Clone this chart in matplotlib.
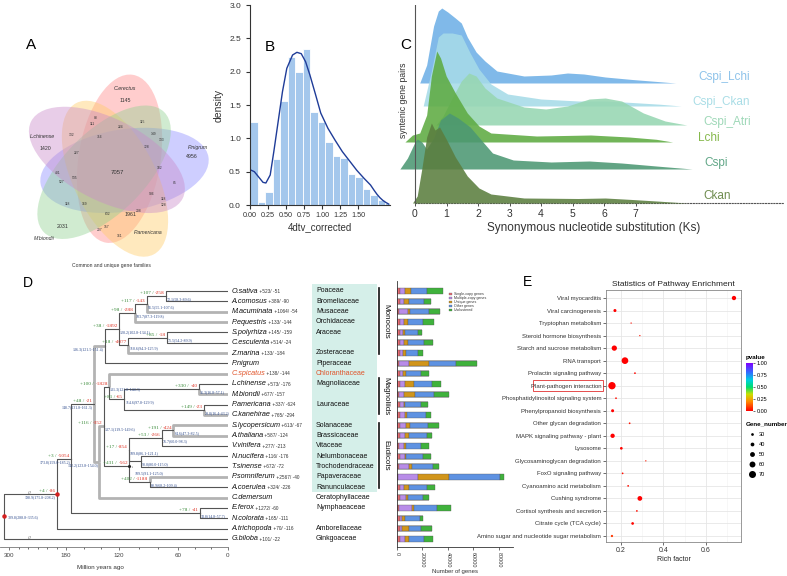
import numpy as np
import matplotlib
matplotlib.use('Agg')
import matplotlib.pyplot as plt
from matplotlib.patches import Ellipse, Rectangle
from matplotlib.colors import LinearSegmentedColormap, Normalize
from matplotlib.cm import ScalarMappable

plt.rcParams['font.family'] = ['Liberation Sans', 'DejaVu Sans']

# ======================= DATA =======================
# Panel A : Venn
venn_names = ['C.erectus', 'P.nigrum', 'P.americana', 'M.biondii', 'L.chinense']
venn_unique = [1145, 4956, 1961, 2031, 1420]
venn_core = 7057
venn_shared = [88, 111, 224, 115, 132, 716, 149, 133, 728, 227, 182, 401, 527,
               535, 85, 986, 118, 128, 118, 169, 208, 632, 157, 207, 161]

# Panel B : 4dtv histogram + kde
hist_bin_width = 0.104
hist_density = [1.245, 0.045, 0.19, 0.69, 1.56, 2.22, 2.00, 2.34, 1.39, 1.245,
                0.95, 0.74, 0.70, 0.47, 0.42, 0.24, 0.15, 0.08, 0.03]
kde_x = [0.00, 0.06, 0.12, 0.18, 0.22, 0.28, 0.33, 0.39, 0.45, 0.51, 0.59, 0.65,
         0.71, 0.77, 0.83, 0.91, 0.98, 1.08, 1.18, 1.28, 1.38, 1.48, 1.58, 1.67,
         1.72, 1.76, 1.80, 1.84, 1.88, 1.92]
kde_y = [0.53, 0.50, 0.42, 0.34, 0.33, 0.45, 0.80, 1.25, 1.70, 2.05, 2.25, 2.29,
         2.27, 2.15, 1.95, 1.65, 1.38, 1.15, 0.97, 0.80, 0.66, 0.52, 0.40, 0.30,
         0.22, 0.16, 0.11, 0.07, 0.04, 0.015]

# Panel C : Ks ridgelines (x = Ks, h = ridge height)
ridge_labels = ['Cspi_Lchi', 'Cspi_Ckan', 'Cspi_Atri', 'Lchi', 'Cspi', 'Ckan']
ks_cspi_lchi = [0.15, 0.37, 0.59, 0.74, 0.85, 1.04, 1.28, 1.47, 1.66, 1.94, 2.22, 2.6, 3.46, 4.32, 4.84, 5.36, 6.04, 6.9, 7.77, 8.28]
h_cspi_lchi = [0, 18, 57, 72, 75, 71, 65, 60, 46, 31, 22, 12, 7, 8, 10, 9, 6, 3.5, 1.3, 0]
ks_cspi_ckan = [0.26, 0.52, 0.74, 0.89, 1.18, 1.47, 1.75, 2.03, 2.41, 2.94, 4.0, 5.2, 6.04, 6.9, 7.77, 8.45]
h_cspi_ckan = [0, 35, 69, 73, 73, 71, 53, 37, 22, 12, 7, 5, 5, 3.5, 1.8, 0]
ks_cspi_atri = [0.67, 0.89, 1.18, 1.47, 1.71, 1.94, 2.22, 2.6, 3.46, 4.15, 4.84, 5.53, 6.04, 6.56, 7.25, 7.94, 8.63]
h_cspi_atri = [0, 9, 27, 44, 52, 49, 37, 27, 18, 16, 19, 26, 27, 24, 12, 4, 0]
ks_lchi = [-0.32, -0.08, 0.15, 0.37, 0.52, 0.69, 0.81, 0.99, 1.28, 1.66, 2.03, 2.41, 3.86, 5.58, 6.8, 7.66, 8.18]
h_lchi = [0, 7, 9, 27, 66, 91, 84, 66, 49, 29, 16, 9, 6, 7, 5, 2.7, 0]
ks_cspi = [-0.48, -0.24, 0.0, 0.07, 0.22, 0.37, 0.59, 0.81, 1.09, 1.37, 1.75, 2.13, 2.46, 3.12, 4.32, 5.53, 6.56, 7.77, 8.8]
h_cspi = [0, 11, 27, 30, 27, 20, 31, 49, 56, 51, 42, 28, 16, 9, 7, 8, 6, 2.7, 0]
ks_ckan = [-0.08, 0.07, 0.22, 0.37, 0.52, 0.63, 0.78, 0.99, 1.28, 1.66, 2.03, 2.41, 3.46, 5.18, 6.04, 6.9, 7.77, 8.63]
h_ckan = [0, 7, 35, 66, 80, 73, 76, 64, 46, 27, 15, 9, 5, 4.5, 5, 3.5, 1.8, 0]
ks_ticks = [0, 1, 2, 3, 4, 5, 6, 7]

# Panel D : species tree
species = ['O.sativa', 'A.comosus', 'M.acuminata', 'P.equestris', 'S.polyrhiza',
           'C.esculenta', 'Z.marina', 'P.nigrum', 'C.spicatus', 'L.chinense',
           'M.biondii', 'P.americana', 'C.kanehirae', 'S.lycopersicum', 'A.thaliana',
           'V.vinifera', 'N.nucifera', 'T.sinense', 'P.somniferum', 'A.coerulea',
           'C.demersum', 'E.ferox', 'N.colorata', 'A.trichopoda', 'G.biloba']
sp_gain = ['+523', '+389', '+1064', '+133', '+145', '+514', '+133', '', '+138', '+573',
           '+677', '+337', '+765', '+613', '+587', '+277', '+116', '+672', '+2567', '+324',
           '', '+1272', '+165', '+70', '+101']
sp_loss = ['-51', '-90', '-54', '-144', '-159', '-24', '-184', '', '-144', '-176',
           '-157', '-624', '-294', '-67', '-124', '-213', '-176', '-72', '-40', '-226',
           '', '-60', '-111', '-116', '-22']
families = ['Poaceae', 'Bromeliaceae', 'Musaceae', 'Orchidaceae', 'Araceae', '',
            'Zosteraceae', 'Piperaceae', 'Chloranthaceae', 'Magnoliaceae', '',
            'Lauraceae', '', 'Solanaceae', 'Brassicaceae', 'Vitaceae', 'Nelumbonaceae',
            'Trochodendraceae', 'Papaveraceae', 'Ranunculaceae', 'Ceratophyllaceae',
            'Nymphaeaceae', '', 'Amborellaceae', 'Ginkgoaceae']
clades = ['Monocots', 'Magnoliids', 'Eudicots']
node_ids = ['n72', 'n91', 'n103', 'n71', 'n110', 'n120', 'n136', 'n35', 'n29', 'n114',
            'n131', 'n64', 'n76', 'n98', 'n109a', 'n88', 'n109b', 'n137', 'n142',
            'n148', 'n33', 'n173', 'n198', 'root']
node_age = [72.1, 91.5, 103.7, 71.5, 110.6, 120.2, 136.3, 35.3, 29.0, 114.6, 131.3,
            64.6, 76.7, 98.0, 109.8, 88.9, 109.5, 137.1, 142.2, 148.7, 33.8, 173.8,
            198.9, 309.8]
node_children = [[0, 1], ['n72', 2], ['n91', 3], [4, 5], ['n71', 6], ['n103', 'n110'],
                 ['n120', 7], [9, 10], [11, 12], ['n35', 'n29'], [8, 'n114'], [13, 14],
                 ['n64', 15], [16, 17], ['n76', 'n98'], [18, 19], ['n109a', 'n88'],
                 ['n131', 'n109b'], ['n137', 20], ['n136', 'n142'], [21, 22],
                 ['n148', 'n33'], ['n173', 23], ['n198', 24]]
node_gain = ['+107', '+117', '+98', '+85', '+18', '+38', '', '+330', '+149', '+81',
             '+100', '+191', '+53', '', '+17', '+402', '+431', '+116', '', '+48', '+78',
             '+3', '+4', '']
node_loss = ['-258', '-143', '-288', '-18', '-4077', '-1892', '', '-40', '-23', '-65',
             '-1828', '-424', '-266', '', '-854', '-1188', '-562', '-352', '', '-21', '-41',
             '-5054', '-86', '']
node_ci = ['72.1(58.3-89.6)', '91.5(55.1-107.6)', '103.7(87.3-119.8)', '71.5(54.2-89.9)',
           '110.6(94.3-125.9)', '120.2(102.8-134.1)', '136.3(121.5-151.4)',
           '35.3(16.8-57.1)', '29.0(16.4-43.2)', '114.6(97.8-129.9)', '131.3(121.8-144.3)',
           '64.6(47.3-82.5)', '76.7(60.0-98.3)', '98.0(80.0-115.0)', '109.8(86.1-121.1)',
           '88.9(68.2-109.4)', '109.5(91.1-125.0)', '137.1(119.5-149.6)',
           '142.2(123.8-154.0)', '148.7(131.8-161.3)', '33.8(14.8-57.7)',
           '173.8(159.0-185.2)', '198.9(175.8-208.2)', '309.8(288.8-335.6)']
tree_ticks = [300, 180, 120, 60, 0]

# gene counts per species
gene_cats = ['Single-copy genes', 'Multiple-copy genes', 'Unique genes', 'Other genes', 'Unclustered']
bar_single = [2000, 2000, 1500, 2000, 2000, 2000, 2000, 1500, 2000, 2000, 1500, 2000, 2000,
              2000, 2000, 1500, 2000, 1500, 500, 2000, 2000, 1500, 2000, 2000, 2000]
bar_multi = [4200, 3100, 6800, 3100, 2600, 3600, 2600, 7800, 2600, 3900, 4200, 3600, 4200,
             4700, 4200, 3600, 4200, 8300, 15600, 3600, 4700, 9900, 2100, 1600, 4200]
bar_unique = [4700, 4200, 2000, 3600, 1600, 3100, 2100, 16100, 2600, 7500, 8300, 1000, 1600,
              3600, 3600, 2100, 1000, 1600, 24900, 3600, 1600, 1600, 2100, 5700, 3600]
bar_other = [13000, 12200, 15000, 11400, 9900, 12500, 9900, 20800, 11400, 14000, 15300, 12500,
             15100, 14300, 14000, 11900, 13500, 16700, 40000, 14300, 11900, 18700, 12100, 9900, 11400]
bar_uncl = [12000, 4900, 8800, 9100, 3400, 7300, 3600, 16600, 6200, 7300, 11700, 4900, 3600,
            8600, 3600, 6200, 6000, 4900, 2900, 6200, 5200, 10400, 2100, 8000, 6800]
bar_ticks = [0, 20000, 40000, 60000, 80000]

# Panel E : KEGG enrichment
pathways = ['Viral myocarditis', 'Viral carcinogenesis', 'Tryptophan metabolism',
            'Steroid hormone biosynthesis', 'Starch and sucrose metabolism', 'RNA transport',
            'Prolactin signaling pathway', 'Plant-pathogen interaction',
            'Phosphatidylinositol signaling system', 'Phenylpropanoid biosynthesis',
            'Other glycan degradation', 'MAPK signaling pathway - plant', 'Lysosome',
            'Glycosaminoglycan degradation', 'FoxO signaling pathway',
            'Cyanoamino acid metabolism', 'Cushing syndrome',
            'Cortisol synthesis and secretion', 'Citrate cycle (TCA cycle)',
            'Amino sugar and nucleotide sugar metabolism']
rich_factor = [0.731, 0.172, 0.248, 0.289, 0.169, 0.219, 0.266, 0.158, 0.177, 0.161,
               0.241, 0.161, 0.202, 0.317, 0.208, 0.234, 0.289, 0.275, 0.255, 0.158]
gene_number = [45, 33, 17, 17, 54, 67, 21, 73, 21, 33, 21, 45, 30, 17, 21, 21, 49, 21, 30, 26]
pvalue = [0.0, 0.0, 0.02, 0.03, 0.0, 0.0, 0.01, 0.0, 0.02, 0.0, 0.03, 0.0, 0.01, 0.04,
          0.02, 0.02, 0.0, 0.02, 0.01, 0.08]
size_legend = [30, 40, 50, 60, 70]
pv_ticks = [0.0, 0.25, 0.5, 0.75, 1.0]

# ======================= LAYOUT =======================
W, H = 787, 576
fig = plt.figure(figsize=(W / 100, H / 100), dpi=100)


def pax(x0, y0, x1, y1):
    return fig.add_axes([x0 / W, 1 - y1 / H, (x1 - x0) / W, (y1 - y0) / H])


# ---------- Panel A ----------
axA = pax(0, 0, 230, 280)
axA.set_xlim(0, 230)
axA.set_ylim(280, 0)
axA.axis('off')
venn_cols = ['#ff8a8a', '#8c8cff', '#ffcc66', '#8fd18f', '#c98ac9']
G = (114, 168)
for k, col in enumerate(venn_cols):
    al = np.deg2rad(81 - 72 * k)
    cx = G[0] + 10 * np.cos(al) + 4 * np.cos(al - np.pi / 2)
    cy = G[1] - 10 * np.sin(al) - 4 * np.sin(al - np.pi / 2)
    axA.add_patch(Ellipse((cx, cy), 170, 82, angle=-(81 - 72 * k), facecolor=col,
                          alpha=0.42, edgecolor='none'))
uniq_name_pos = [(125, 88), (198, 147), (148, 232), (44, 239), (42, 137)]
uniq_num_pos = [(125, 100), (192, 157), (130, 214), (63, 227), (45, 148)]
for nm, v, p1, p2 in zip(venn_names, venn_unique, uniq_name_pos, uniq_num_pos):
    axA.text(p1[0], p1[1], nm, fontsize=3.8, style='italic', ha='center', va='center', color='#333333')
    axA.text(p2[0], p2[1], str(v), fontsize=3.8, ha='center', va='center', color='#333333')
axA.text(117, 172, str(venn_core), fontsize=4.3, ha='center', va='center', color='#333333')
shared_pos = [(96, 118), (92, 124), (121, 127), (142, 122), (72, 135), (100, 137), (154, 134),
              (162, 140), (147, 147), (77, 153), (160, 168), (58, 173), (62, 182), (75, 178),
              (175, 183), (152, 194), (163, 199), (164, 205), (67, 204), (85, 204), (139, 211),
              (108, 214), (107, 227), (100, 230), (120, 236)]
for v, p in zip(venn_shared, shared_pos):
    axA.text(p[0], p[1], str(v), fontsize=2.4, ha='center', va='center', color='#333333')

# ---------- Panel B ----------
axB = pax(250, 5, 390, 205)
edges = np.arange(len(hist_density)) * hist_bin_width
axB.bar(edges, hist_density, width=hist_bin_width, align='edge', color='#a4c7ec',
        edgecolor='white', linewidth=0.6)
axB.plot(kde_x, kde_y, color='#1f3c98', lw=1.0)
axB.set_xlim(0, 1.94)
axB.set_ylim(0, 3.0)
for s in ['top', 'right']:
    axB.spines[s].set_visible(False)
for s in ['left', 'bottom']:
    axB.spines[s].set_color('#333333')
    axB.spines[s].set_linewidth(0.8)
axB.set_xticks([0, 0.25, 0.5, 0.75, 1.0, 1.25, 1.5])
axB.set_xticklabels(['0.00', '0.25', '0.50', '0.75', '1.00', '1.25', '1.50'])
axB.set_yticks([0, 0.5, 1.0, 1.5, 2.0, 2.5, 3.0])
axB.set_yticklabels(['0.0', '0.5', '1.0', '1.5', '2.0', '2.5', '3.0'])
axB.tick_params(axis='y', labelsize=6, colors='#333333', length=3, width=0.8)
axB.tick_params(axis='x', labelsize=5.2, colors='#333333', length=3, width=0.8, pad=2)
axB.set_ylabel('density', fontsize=7.5, color='#333333')
axB.set_xlabel('4dtv_corrected', fontsize=7, color='#333333', labelpad=2)

# ---------- Panel C ----------
pxks = 31.5
axC = pax(400, 5, 787, 203)
axC.set_xlim(-15 / pxks, (787 - 415) / pxks)
axC.set_ylim(0, 198)
ridge_base = [120, 97, 78, 61, 34, 0]
ridge_fill = ['#6eb0e6', '#a6dbe8', '#97d6b2', '#5eab42', '#4c9873', '#5b7e3f']
ridge_txt = ['#8ec3ea', '#a9dde6', '#9fd8b8', '#86b94c', '#62a788', '#6f8c4f']
ridge_ks = [ks_cspi_lchi, ks_cspi_ckan, ks_cspi_atri, ks_lchi, ks_cspi, ks_ckan]
ridge_h = [h_cspi_lchi, h_cspi_ckan, h_cspi_atri, h_lchi, h_cspi, h_ckan]
lab_px = [(698, 77), (692, 102), (703, 122), (698, 138), (704, 163), (703, 196)]
for i in range(6):
    b = ridge_base[i]
    axC.fill_between(ridge_ks[i], b, b + np.array(ridge_h[i]), color=ridge_fill[i],
                     alpha=0.88, lw=0, zorder=2 + i)
axC.axvline(0, color='#555555', lw=0.8, zorder=10)
for s in ['top', 'right', 'left']:
    axC.spines[s].set_visible(False)
axC.spines['bottom'].set_linestyle((0, (1, 1.5)))
axC.spines['bottom'].set_color('#555555')
axC.spines['bottom'].set_bounds(0, 11.7)
axC.set_xticks(ks_ticks)
axC.set_yticks([])
axC.tick_params(labelsize=7.5, colors='#333333', length=2.5, width=0.6, pad=2)
axC.set_xlabel('Synonymous nucleotide substitution (Ks)', fontsize=8.5, color='#333333', labelpad=2)
axC.patch.set_alpha(0)

# ---------- Panel D : tree ----------
age_knots = [0, 60, 120, 180, 300, 309.8, 320]
dist_knots = [0, 50, 109, 162, 219, 224, 229]


def fwd(a):
    return np.interp(a, age_knots, dist_knots)


def inv(d):
    return np.interp(d, dist_knots, age_knots)


axT = pax(0, 281, 228, 547)
axT.set_xscale('function', functions=(fwd, inv))
axT.set_xlim(317.96, 0)
axT.set_ylim(24.78, -0.97)
axT.patch.set_alpha(0)
for s in ['top', 'right', 'left']:
    axT.spines[s].set_visible(False)
axT.spines['bottom'].set_color('#777777')
axT.spines['bottom'].set_linewidth(0.6)
axT.set_yticks([])
axT.set_xticks(tree_ticks)
axT.set_xticklabels([str(t) for t in tree_ticks])
axT.set_xticks([20, 40, 80, 100, 140, 160, 200, 220, 240, 260, 280], minor=True)
axT.tick_params(axis='x', labelsize=4.5, colors='#444444', length=2, width=0.5, pad=2)
axT.tick_params(axis='x', which='minor', length=1.2, width=0.4)

ypos = {i: float(i) for i in range(len(species))}
apos = {i: 0.0 for i in range(len(species))}
gray_edges = {2, 3, 6, 8, 10, 12, 13, 14, 18, 20, 'n136', 'n142', 'n137'}
segs = []
for nid, age, ch in zip(node_ids, node_age, node_children):
    ypos[nid] = float(np.mean([ypos[c] for c in ch]))
    apos[nid] = age
    for c in ch:
        segs.append((c in gray_edges, [age, age, apos[c]], [ypos[nid], ypos[c], ypos[c]]))
for g, xs, ys in sorted(segs, key=lambda s: not s[0]):
    if g:
        axT.plot(xs, ys, color='#b3b3b3', lw=2.0, solid_capstyle='butt', zorder=2)
    else:
        axT.plot(xs, ys, color='#555555', lw=0.8, zorder=3)

ci_right = {'n136', 'n142', 'n148', 'n173', 'n198'}
for nid, age, g, l, ci in zip(node_ids, node_age, node_gain, node_loss, node_ci):
    y = ypos[nid]
    if l:
        tl = axT.annotate(l, xy=(age, y), xytext=(-0.8, 0.6), textcoords='offset points',
                          ha='right', va='bottom', fontsize=3.8, color='#e0392b',
                          family=['Liberation Serif'])
        axT.annotate(g + ' / ', xy=(0, 0), xycoords=tl, ha='right', va='bottom',
                     fontsize=3.8, color='#3b8c3b', family=['Liberation Serif'])
    if nid == 'root':
        axT.annotate(ci, xy=(age, y), xytext=(2.5, -0.5), textcoords='offset points',
                     ha='left', va='center', fontsize=2.9, color='#2d4a8c',
                     family=['Liberation Serif'])
    elif nid == 'n109b':
        axT.annotate(ci, xy=(age, y), xytext=(4, -3.5), textcoords='offset points',
                     ha='left', va='top', fontsize=2.9, color='#2d4a8c',
                     family=['Liberation Serif'],
                     arrowprops=dict(arrowstyle='-', lw=0.4, color='#333333'))
    elif nid in ci_right:
        axT.annotate(ci, xy=(age, y), xytext=(-0.8, -0.9), textcoords='offset points',
                     ha='right', va='top', fontsize=2.9, color='#2d4a8c',
                     family=['Liberation Serif'])
    else:
        axT.annotate(ci, xy=(age, y), xytext=(0.8, -0.6), textcoords='offset points',
                     ha='left', va='top', fontsize=2.9, color='#2d4a8c',
                     family=['Liberation Serif'])
axT.plot([apos['n198'], apos['root']], [ypos['n198'], ypos['root']], 'o', color='#d42020',
         ms=2.2, zorder=5)
axT.plot([apos['n109b']], [ypos['n109b']], 'o', color='#222222', ms=1.2, zorder=5)
for yy in [ypos['n198'], 24]:
    axT.text(258, yy, '//', fontsize=3.5, ha='center', va='center', color='#555555')

for i, nm in enumerate(species):
    col = '#e0542a' if nm == 'C.spicatus' else '#111111'
    t = axT.annotate(nm, xy=(0, i), xytext=(2.4, 0), textcoords='offset points',
                     ha='left', va='center', fontsize=5.2, style='italic', color=col)
    if sp_gain[i]:
        axT.annotate(' ' + sp_gain[i] + '/ ' + sp_loss[i], xy=(1, 0.12), xycoords=t,
                     ha='left', va='bottom', fontsize=3.4, color='#333333')

# ---------- overlay ----------
ov = pax(0, 0, W, H)
ov.set_xlim(0, W)
ov.set_ylim(H, 0)
ov.axis('off')
ov.patch.set_alpha(0)
ov.add_patch(Rectangle((312, 284), 65, 208, facecolor='#d5efe9', edgecolor='none', zorder=0))
row_px = lambda i: 291 + 10.33 * i
for i, f in enumerate(families):
    if f:
        ov.text(316, row_px(i), f, fontsize=5.0, va='center', ha='left',
                color='#e0542a' if f == 'Chloranthaceae' else '#111111')
clade_span = [(288, 354), (378, 414), (423, 488)]
for cl, (y0, y1) in zip(clades, clade_span):
    ov.plot([379, 379], [y0, y1], color='#111111', lw=1.2)
    ov.text(386, (y0 + y1) / 2, cl, rotation=270, fontsize=5.8, ha='center', va='center',
            color='#111111')
for i in range(6):
    ov.text(lab_px[i][0], lab_px[i][1], ridge_labels[i], color=ridge_txt[i], fontsize=8.5,
            ha='left', va='center')
ov.text(31, 45, 'A', fontsize=11, ha='center', va='center')
ov.text(270, 47, 'B', fontsize=11, ha='center', va='center')
ov.text(406, 45, 'C', fontsize=11, ha='center', va='center')
ov.text(28, 283, 'D', fontsize=10, ha='center', va='center')
ov.text(527, 282, 'E', fontsize=10, ha='center', va='center')
ov.text(111, 266, 'Common and unique gene families', fontsize=3.6, ha='center', va='center',
        color='#333333')
ov.text(403, 100, 'syntenic gene pairs', rotation=90, fontsize=6.3, ha='center', va='center',
        color='#333333')
ov.text(100, 567, 'Million years ago', fontsize=4.5, ha='center', va='center', color='#333333')

# ---------- gene count bars ----------
axG = pax(397, 281, 513, 547)
rows = np.arange(len(species))
seg_cols = ['#ea6a73', '#b88ce8', '#d1951a', '#5e92e2', '#3fb23c']
left = np.zeros(len(species))
axG.barh(rows, np.array(bar_single) + np.array(bar_multi) + np.array(bar_unique) +
         np.array(bar_other) + np.array(bar_uncl), height=0.62, color='#bdbdbd', zorder=1)
for vals, col in zip([bar_single, bar_multi, bar_unique, bar_other, bar_uncl], seg_cols):
    axG.barh(rows, vals, left=left, height=0.5, color=col, edgecolor='#555555',
             linewidth=0.25, zorder=2)
    left = left + np.array(vals)
axG.set_xlim(0, 91000)
axG.set_ylim(24.78, -0.97)
axG.set_yticks([])
axG.set_xticks(bar_ticks)
axG.set_xticklabels([str(t) for t in bar_ticks], rotation=270)
axG.tick_params(axis='x', labelsize=3.9, length=2, width=0.5, pad=1.5, colors='#333333')
for s in ['top', 'right']:
    axG.spines[s].set_visible(False)
for s in ['left', 'bottom']:
    axG.spines[s].set_linewidth(0.6)
    axG.spines[s].set_color('#333333')
axG.patch.set_alpha(0)
ov.text(455, 572, 'Number of genes', fontsize=4.3, ha='center', va='center', color='#333333')
for j, (nm, col) in enumerate(zip(gene_cats, seg_cols)):
    yy = 294 + 4 * j
    ov.add_patch(Rectangle((449, yy - 1.4), 3, 2.8, facecolor=col, edgecolor='#555555', lw=0.2))
    ov.text(454, yy, nm, fontsize=2.6, va='center', ha='left', color='#333333')

# ---------- Panel E ----------
axE = pax(606, 290, 741, 542)
cmap = LinearSegmentedColormap.from_list('pv', [(0, '#ff0000'), (0.2, '#ff8c00'),
                                                (0.35, '#c8e000'), (0.5, '#00dd70'),
                                                (0.65, '#00d0e0'), (0.8, '#3070ff'),
                                                (1.0, '#8000ff')])
norm = Normalize(0, 1)


def dot_size(n):
    d_px = np.clip(2.7 + (np.asarray(n, dtype=float) - 30) * 0.1075, 1.0, None)
    return (d_px / 1.389) ** 2


yE = np.arange(len(pathways))
axE.scatter(rich_factor, yE, s=dot_size(gene_number), c=pvalue, cmap=cmap, norm=norm,
            zorder=3, linewidths=0)
axE.set_xlim(0.13, 0.764)
axE.set_ylim(19.48, -0.64)
axE.set_yticks(yE)
axE.set_yticklabels(pathways)
axE.set_xticks([0.2, 0.4, 0.6])
axE.set_xticklabels(['0.2', '0.4', '0.6'])
axE.set_xticks([0.3, 0.5, 0.7], minor=True)
axE.tick_params(axis='y', labelsize=4.3, length=2, width=0.5, pad=1.5, colors='#333333')
axE.tick_params(axis='x', labelsize=5, length=2, width=0.5, pad=1.5, colors='#333333')
axE.tick_params(axis='x', which='minor', length=0)
axE.grid(True, which='major', color='#e6e6e6', lw=0.6)
axE.grid(True, which='minor', axis='x', color='#f2f2f2', lw=0.4)
axE.set_axisbelow(True)
for s in axE.spines.values():
    s.set_color('#888888')
    s.set_linewidth(0.6)
axE.set_title('Statistics of Pathway Enrichment', fontsize=6, pad=3, color='#222222')
axE.set_xlabel('Rich factor', fontsize=5, labelpad=1.5, color='#222222')
ov.add_patch(Rectangle((533, 380), 70, 11, facecolor='none', edgecolor='#e03030', lw=0.6))

cax = pax(746, 363, 753, 411)
cb = fig.colorbar(ScalarMappable(norm=norm, cmap=cmap), cax=cax, ticks=pv_ticks)
cb.outline.set_visible(False)
cb.ax.set_yticklabels(['0.00', '0.25', '0.50', '0.75', '1.00'])
cb.ax.tick_params(labelsize=4, length=1.5, width=0.4, pad=1)
ov.text(746, 357, 'pvalue', fontsize=4.5, fontweight='bold', ha='left', va='center')
ov.text(746, 424, 'Gene_number', fontsize=4.5, fontweight='bold', ha='left', va='center')
for j, n in enumerate(size_legend):
    yy = 434 + 10 * j
    ov.scatter([752], [yy], s=dot_size(n), color='black', linewidths=0)
    ov.text(759, yy, str(n), fontsize=4, va='center', ha='left')

fig.savefig('out.png', dpi=100)
